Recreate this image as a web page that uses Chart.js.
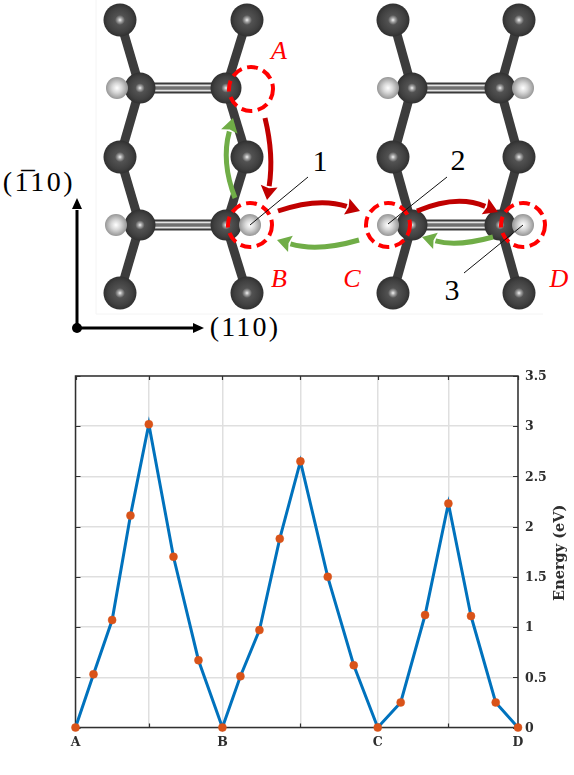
<!DOCTYPE html>
<html>
<head>
<meta charset="utf-8">
<style>
html,body{margin:0;padding:0;background:#fff;width:574px;height:775px;overflow:hidden}
#dia{position:absolute;left:0;top:0}
#wrap{position:absolute;left:0;top:345px;width:574px;height:430px}
</style>
<script src="https://cdn.jsdelivr.net/npm/chart.js@4"></script>
</head>
<body>
<svg id="dia" width="574" height="345" xmlns="http://www.w3.org/2000/svg">
<defs>
<radialGradient id="c"><stop offset="0" stop-color="#f4f4f4"/><stop offset=".12" stop-color="#a8a8a8"/><stop offset=".3" stop-color="#525252"/><stop offset=".75" stop-color="#404040"/><stop offset="1" stop-color="#303030"/></radialGradient>
<radialGradient id="h"><stop offset="0" stop-color="#ffffff"/><stop offset=".45" stop-color="#d6d6d6"/><stop offset="1" stop-color="#969696"/></radialGradient>
</defs>
<g id="g"></g>
</svg>
<div id="wrap"><canvas id="chart" width="574" height="430"></canvas></div>
<script>
// Path coordinate of each computed image along A-B-C-D
const pathPositions = [0,0.407,0.828,1.242,1.657,2.214,2.779,3.32,3.727,4.157,4.616,5.083,5.70,6.288,6.83,7.349,7.9,8.427,8.938,9.496,10];
// Energy barrier values (eV)
const energies = [0,0.53,1.07,2.11,3.02,1.70,0.67,0,0.51,0.97,1.88,2.65,1.50,0.62,0,0.25,1.12,2.23,1.11,0.25,0];
// X tick positions and labels
const xTickPositions = [0,1.657,3.32,5.083,6.83,8.427,10];
const xTickLabels = ['A','','B','','C','','D'];
const yAxisLabel = 'Energy (eV)';

/* ---------- structure diagram ---------- */
const NS='http://www.w3.org/2000/svg', G=document.getElementById('g');
function el(n,a,t){const e=document.createElementNS(NS,n);for(const k in a)e.setAttribute(k,a[k]);if(t!==undefined)e.textContent=t;G.appendChild(e);return e;}
function ln(x1,y1,x2,y2,s,w){return el('line',{x1,y1,x2,y2,stroke:s,'stroke-width':w});}
el('path',{d:'M96 0V314H543',fill:'none',stroke:'#f4f4f4','stroke-width':1});
const ys=[20,88,157,225,293];
function structure(xo,xi,xr,xir,hs){
  [[xo,xi],[xr,xir]].forEach(([a,b])=>{
    ln(a,ys[0],b,ys[1],'#3c3c3c',9);ln(b,ys[1],a,ys[2],'#3c3c3c',9);
    ln(a,ys[2],b,ys[3],'#3c3c3c',9);ln(b,ys[3],a,ys[4],'#3c3c3c',9);
  });
  [ys[1],ys[3]].forEach(y=>{
    ln(xi,y,xir,y,'#3a3a3a',11);ln(xi,y,xir,y,'#707070',2);
    ln(xi,y-2.5,xir,y-2.5,'#e4e4e4',1.8);ln(xi,y+2.5,xir,y+2.5,'#e4e4e4',1.8);
  });
  hs.forEach(([hx,cx,y])=>{ln(hx,y,cx,y,'#333',9);});
  [[xo,0],[xr,0],[xo,2],[xr,2],[xo,4],[xr,4]].forEach(([x,i])=>el('circle',{cx:x,cy:ys[i],r:16.5,fill:'url(#c)'}));
  [[xi,1],[xir,1],[xi,3],[xir,3]].forEach(([x,i])=>el('circle',{cx:x,cy:ys[i],r:15.5,fill:'url(#c)'}));
  hs.forEach(([hx,cx,y])=>el('circle',{cx:hx,cy:y,r:11,fill:'url(#h)'}));
}
structure(120,140,247,226,[[117,140,88],[116,140,225],[250,226,225]]);
structure(393,412,519,500,[[388,412,88],[523,500,88],[388,412,225],[523,500,225]]);

[[251,89],[250,225],[388,225],[523,225]].forEach(([x,y])=>el('circle',{cx:x,cy:y,r:22,fill:'none',stroke:'#ff0000','stroke-width':4,'stroke-dasharray':'11 5.5'}));

function arrow(s,c,e,col){
  let dx=e[0]-c[0],dy=e[1]-c[1];const L=Math.hypot(dx,dy);dx/=L;dy/=L;
  const bx=e[0]-dx*14,by=e[1]-dy*14,nx=-dy,ny=dx;
  el('path',{d:`M${s[0]} ${s[1]}Q${c[0]} ${c[1]} ${bx} ${by}`,fill:'none',stroke:col,'stroke-width':5});
  el('polygon',{points:`${e[0]},${e[1]} ${bx+nx*8.5},${by+ny*8.5} ${bx+dx*2},${by+dy*2} ${bx-nx*8.5},${by-ny*8.5}`,fill:col});
}
const R='#c00000',Gr='#70ad47';
arrow([265,118],[274,155],[267,200],R);
arrow([235,198],[221,162],[233,118],Gr);
arrow([278,211],[319,197],[360,211],R);
arrow([359,240],[318,252],[277,240],Gr);
arrow([417,211],[457,194],[498,212],R);
arrow([493,237],[457,247],[422,237],Gr);

ln(250,225,308,177,'#111',1);ln(388,224,447,177,'#111',1);ln(523,225,464,273,'#111',1);

function txt(x,y,s,size,col,it,ls){const t=el('text',{x,y,'font-family':'"Liberation Serif",serif','font-size':size,fill:col,'font-style':it?'italic':'normal','text-anchor':'middle'},s);if(ls)t.setAttribute('letter-spacing',ls);return t;}
txt(320,171,'1',30,'#000');txt(458,170,'2',30,'#000');txt(452,300,'3',30,'#000');
txt(279,59,'A',26,'#ff0000',true);txt(279,287,'B',26,'#ff0000',true);txt(352,287,'C',26,'#ff0000',true);txt(559,287,'D',26,'#ff0000',true);

// coordinate axes
ln(77,328,77,210,'#000',3);el('polygon',{points:'77,198 72,209 82,209',fill:'#000'});
ln(77,328,193,328,'#000',3);el('polygon',{points:'204,328 193,323 193,333',fill:'#000'});
el('circle',{cx:77,cy:328,r:5,fill:'#000'});
txt(245,336,'(110)',28,'#000',false,2.2);
txt(39,191,'(1\u030510)',28,'#000',false,2.6);

/* ---------- energy chart ---------- */
const frame={id:'frame',
 beforeDatasetsDraw(ch){
  const {ctx,chartArea:a,scales:{x,y}}=ch;
  ctx.save();ctx.strokeStyle='#303030';ctx.lineWidth=1.2;ctx.beginPath();
  xTickPositions.forEach(v=>{const p=Math.round(x.getPixelForValue(v))+.5;ctx.moveTo(p,a.bottom);ctx.lineTo(p,a.bottom-4);ctx.moveTo(p,a.top);ctx.lineTo(p,a.top+4);});
  y.ticks.forEach(t=>{const p=Math.round(y.getPixelForValue(t.value))+.5;ctx.moveTo(a.left,p);ctx.lineTo(a.left+5,p);ctx.moveTo(a.right,p);ctx.lineTo(a.right-5,p);});
  ctx.stroke();ctx.lineWidth=1.5;ctx.strokeRect(a.left,a.top,a.right-a.left,a.bottom-a.top);ctx.restore();
 },
 afterDraw(ch){
  const {ctx,chartArea:a}=ch;
  ctx.save();ctx.translate(560,(a.top+a.bottom)/2+1);ctx.rotate(-Math.PI/2);
  ctx.font='bold 14.5px "DejaVu Serif"';ctx.fillStyle='#2e2e2e';ctx.textAlign='center';ctx.textBaseline='middle';
  ctx.fillText(yAxisLabel,0,0);ctx.restore();
 }};
new Chart(document.getElementById('chart'),{
 type:'line',
 data:{datasets:[{data:pathPositions.map((p,i)=>({x:p,y:energies[i]})),borderColor:'#0072BD',borderWidth:3,backgroundColor:'#D95319',
   pointBackgroundColor:'#D95319',pointBorderColor:'#D95319',pointRadius:4,pointBorderWidth:0.5,tension:0,clip:false}]},
 options:{responsive:false,animation:false,
  layout:{padding:{left:75.5,top:31,right:0,bottom:0}},
  plugins:{legend:{display:false},tooltip:{enabled:false}},
  scales:{
   x:{type:'linear',min:0,max:10,
    afterBuildTicks(s){s.ticks=xTickPositions.map(v=>({value:v}));},
    afterFit(s){s.height=47.5;},
    grid:{color:'#dfdfdf',lineWidth:1.5,drawTicks:false},border:{display:false},
    ticks:{autoSkip:false,maxRotation:0,padding:8,color:'#2e2e2e',font:{family:'"DejaVu Serif"',weight:'bold',size:12.5},
     callback(v,i){return xTickLabels[i];}}},
   y:{position:'right',min:0,max:3.5,
    afterFit(s){s.width=56;},
    grid:{color:'#dfdfdf',lineWidth:1.5,drawTicks:false},border:{display:false},
    ticks:{stepSize:0.5,padding:7,labelOffset:1,crossAlign:'near',color:'#2e2e2e',font:{family:'"DejaVu Serif"',weight:'bold',size:12.5},
     callback(v){return String(v);}}}
  }},
 plugins:[frame]});
</script>
</body>
</html>
